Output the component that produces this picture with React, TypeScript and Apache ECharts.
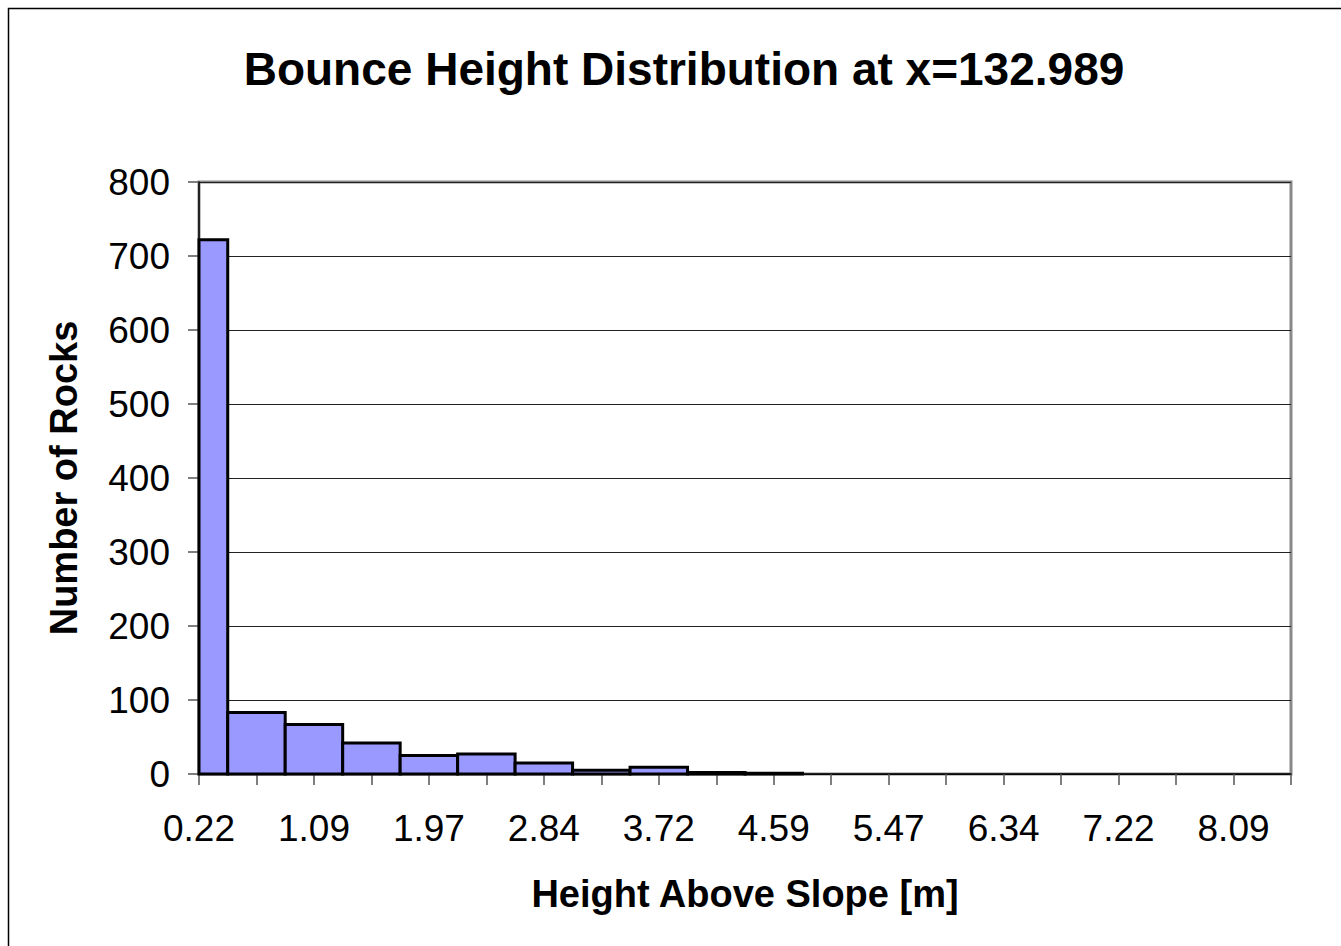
import React, { useEffect, useRef } from "react";
import * as echarts from "echarts";

const categories = [
  "0.22", "0.66", "1.09", "1.53", "1.97", "2.40", "2.84", "3.28", "3.72", "4.15",
  "4.59", "5.03", "5.47", "5.90", "6.34", "6.78", "7.22", "7.65", "8.09", "8.53",
];
const counts = [722, 83, 67, 42, 25, 27, 15, 5, 9, 2, 1, 0, 0, 0, 0, 0, 0, 0, 0, 0];

const titleText = "Bounce Height Distribution at x=132.989";
const xName = "Height Above Slope [m]";
const yName = "Number of Rocks";
const FONT = "'Liberation Sans', Arial, sans-serif";

export default function App() {
  const ref = useRef<HTMLDivElement>(null);
  useEffect(() => {
    if (!ref.current) return;
    const chart = echarts.init(ref.current, null, { renderer: "svg" });
    chart.setOption({
      animation: false,
      backgroundColor: "#ffffff",
      textStyle: { fontFamily: FONT },
      title: {
        text: titleText,
        left: 679,
        top: 41,
        textAlign: "center",
        textStyle: { fontFamily: FONT, fontSize: 46, fontWeight: "bold", color: "#000" },
      },
      graphic: [
        {
          type: "rect",
          shape: { x: 8.5, y: 8.5, width: 1500, height: 1200 },
          style: { fill: "none", stroke: "#000", lineWidth: 1.5 },
          silent: true,
        },
      ],
      grid: {
        left: 199,
        right: 50,
        top: 182,
        bottom: 172,
        show: true,
        borderColor: "#888888",
        borderWidth: 3,
        backgroundColor: "#ffffff",
      },
      xAxis: {
        type: "category",
        data: categories,
        boundaryGap: false,
        name: xName,
        nameLocation: "middle",
        nameGap: 101,
        nameTextStyle: { fontFamily: FONT, fontSize: 38, fontWeight: "bold", color: "#000" },
        axisLine: { lineStyle: { color: "#000", width: 1.5 } },
        axisTick: { show: true, interval: 0, length: 11, lineStyle: { color: "#555", width: 1.5 } },
        axisLabel: { interval: 1, margin: 36, fontFamily: FONT, fontSize: 37, color: "#000" },
        splitLine: { show: false },
      },
      yAxis: {
        type: "value",
        min: 0,
        max: 800,
        interval: 100,
        name: yName,
        nameLocation: "middle",
        nameRotate: 90,
        nameGap: 116,
        nameTextStyle: { fontFamily: FONT, fontSize: 38, fontWeight: "bold", color: "#000" },
        axisLine: { show: true, lineStyle: { color: "#000", width: 1.5 } },
        axisTick: { show: true, length: 11, lineStyle: { color: "#555", width: 1.5 } },
        axisLabel: { margin: 29, fontFamily: FONT, fontSize: 37, color: "#000" },
        splitLine: { show: true, lineStyle: { color: "#222", width: 1 } },
      },
      series: [
        {
          type: "custom",
          data: counts.map((v, i) => [i, v]),
          encode: { x: 0, y: 1 },
          renderItem: (params: any, api: any) => {
            const idx = api.value(0);
            const val = api.value(1);
            if (!val) return null;
            const top = api.coord([idx, val]);
            const base = api.coord([idx, 0]);
            const w = api.size([1, 0])[0];
            const cs = params.coordSys;
            const rect = echarts.graphic.clipRectByRect(
              { x: top[0] - w / 2, y: top[1], width: w, height: base[1] - top[1] },
              { x: cs.x, y: cs.y, width: cs.width, height: cs.height }
            );
            if (!rect) return null;
            return {
              type: "rect",
              shape: rect,
              style: { fill: "#9999ff", stroke: "#000", lineWidth: 3 },
            };
          },
        },
      ],
    });
    return () => chart.dispose();
  }, []);
  return (
    <div
      ref={ref}
      style={{ position: "absolute", left: 0, top: 0, width: 1341, height: 946 }}
    />
  );
}
